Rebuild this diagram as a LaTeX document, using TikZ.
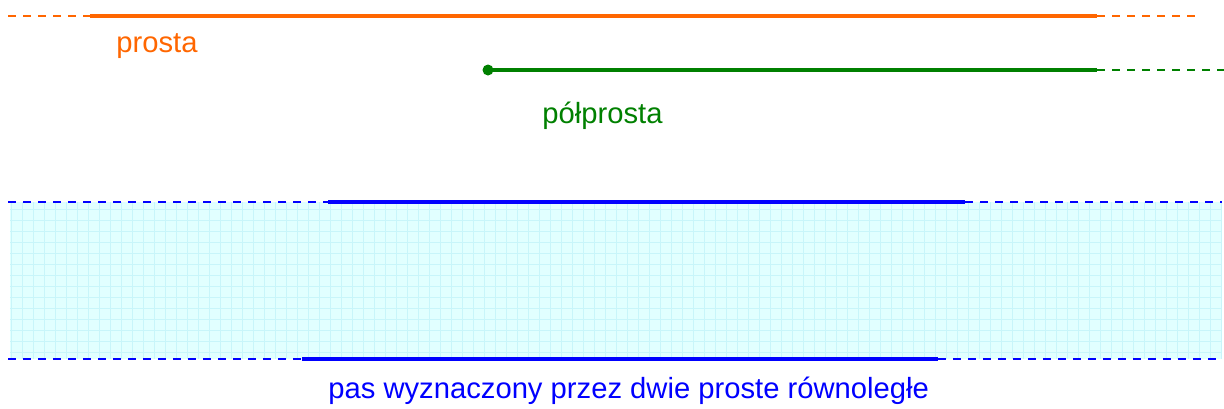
\documentclass[tikz,border=0pt]{standalone}
\usepackage{fontspec}
\setmainfont{Liberation Sans}
\definecolor{cor}{RGB}{255,102,0}
\definecolor{cgr}{RGB}{0,128,0}
\definecolor{cbl}{RGB}{0,0,255}
\definecolor{cfill}{RGB}{225,255,255}
\definecolor{cgrid}{RGB}{200,245,250}
\begin{document}
\begin{tikzpicture}[x=0.5pt,y=-0.5pt,
  solidln/.style={line width=2pt},
  dashln/.style={line width=1pt,dash pattern=on 4pt off 3.5pt},
  lbl/.style={font=\fontsize{14.6}{17}\selectfont,inner sep=0pt,anchor=base west}]
\useasboundingbox (0,0) rectangle (1224,408);
% strip
\fill[cfill] (10,202) rectangle (1222,359);
\begin{scope}
\clip (10,202) rectangle (1222,359);
\draw[cgrid,line width=0.3pt,xstep=5.5pt,ystep=5.5pt] (10,202) grid (1222,359);
\end{scope}
% orange line
\coordinate (o0) at (8,16); \coordinate (o1) at (90,16);
\coordinate (o2) at (1097,16); \coordinate (o3) at (1197,16);
\draw[cor,dashln] (o0) -- (o1);
\draw[cor,solidln] (o1) -- (o2);
\draw[cor,dashln] (o2) -- (o3);
\node[lbl,text=cor] (tp) at (116,52) {prosta};
% green ray
\coordinate (g1) at (1097,70); \coordinate (g2) at (1224,70);
\node[circle,fill=cgr,inner sep=0pt,minimum size=5.5pt] (g0) at (488,70) {};
\draw[cgr,solidln] (g0.center) -- (g1);
\draw[cgr,dashln] (g1) -- (g2);
\node[lbl,text=cgr] (tg) at (542,123) {półprosta};
% blue lines
\coordinate (a0) at (8,202); \coordinate (a1) at (328,202);
\coordinate (a2) at (965,202); \coordinate (a3) at (1222,202);
\draw[cbl,dashln] (a0) -- (a1);
\draw[cbl,solidln] (a1) -- (a2);
\draw[cbl,dashln] (a2) -- (a3);
\coordinate (b0) at (8,359); \coordinate (b1) at (302,359);
\coordinate (b2) at (938,359); \coordinate (b3) at (1222,359);
\draw[cbl,dashln] (b0) -- (b1);
\draw[cbl,solidln] (b1) -- (b2);
\draw[cbl,dashln] (b2) -- (b3);
\node[lbl,text=cbl] (tb) at (328,398) {pas wyznaczony przez dwie proste równoległe};
\end{tikzpicture}
\end{document}
